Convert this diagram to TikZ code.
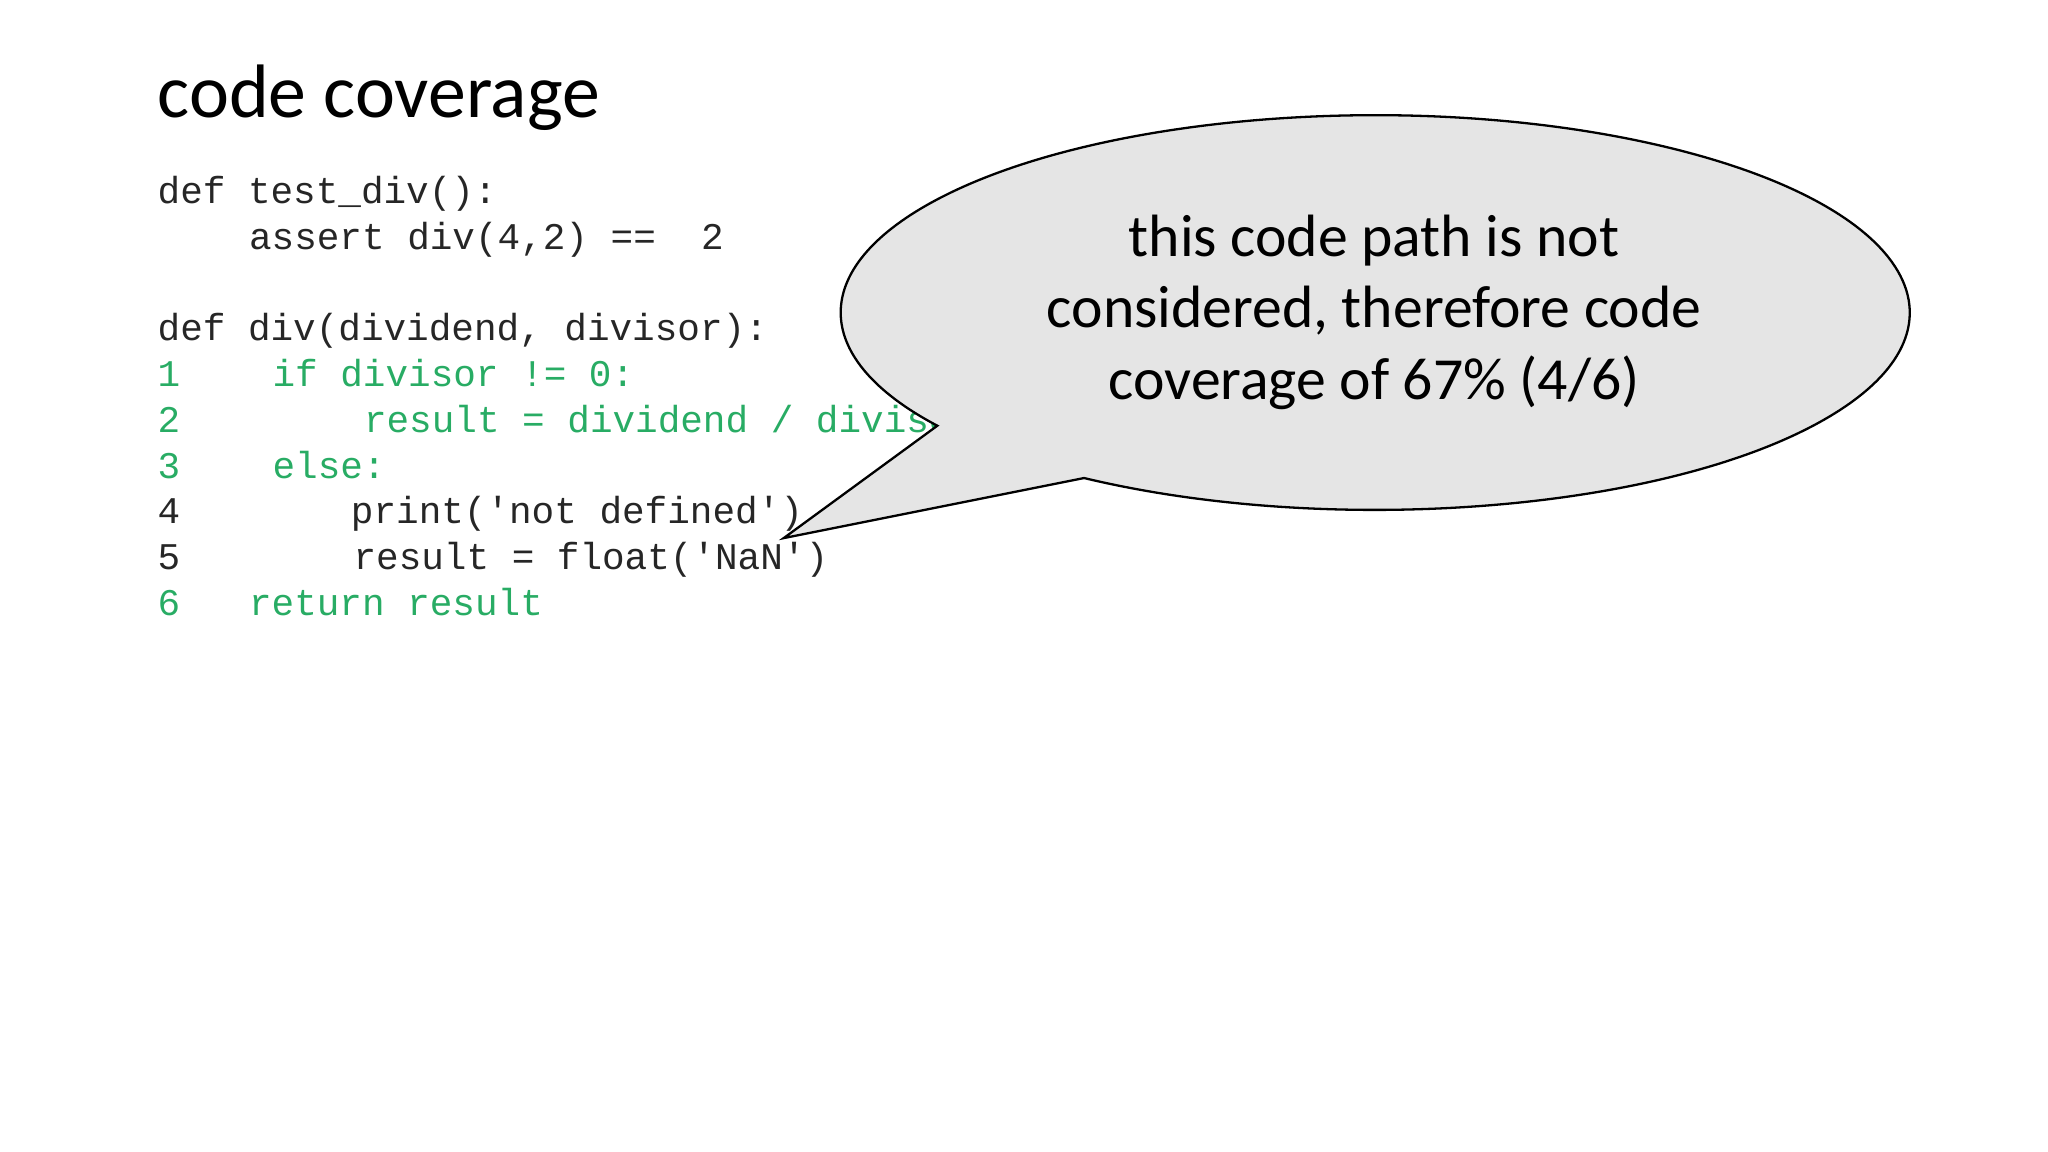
\documentclass[tikz,border=0pt]{standalone}
\usepackage{fontspec}
\setmainfont{Carlito}
\setmonofont{Liberation Mono}
\begin{document}
\begin{tikzpicture}[x=0.01cm,y=-0.01cm,
  code/.style={anchor=base west,inner sep=0pt,font=\ttfamily\fontsize{8.2}{10}\selectfont,text=black!85},
  cov/.style={code,text=codegreen}]
\definecolor{codegreen}{RGB}{40,172,100}
\fill[white] (0,0) rectangle (1568,882);
\node[anchor=base west,inner sep=0pt,font=\fontsize{16.5}{20}\selectfont] (title) at (120,90) {code coverage};
\node[code] (l1) at (120,156) {def test\_div():};
\node[code] (l2) at (190,191) {assert div(4,2) ==\ \ 2};
\node[code] (l3) at (120,261) {def div(dividend, divisor):};
\node[cov] (n1) at (120,296) {1};
\node[cov] (c1) at (208,296) {if divisor != 0:};
\node[cov] (n2) at (120,331) {2};
\node[cov] (c2) at (278,331) {result = dividend / divisor};
\node[cov] (n3) at (120,366) {3};
\node[cov] (c3) at (208,366) {else:};
\node[code] (n4) at (120,401) {4};
\node[code] (c4) at (268,401) {print('not defined')};
\node[code] (n5) at (120,436) {5};
\node[code] (c5) at (270,436) {result = float('NaN')};
\node[cov] (n6) at (120,471) {6};
\node[cov] (c6) at (190,471) {return result};
\coordinate (tip) at (600,412);
\coordinate (ctr) at (1052,239);
\filldraw[fill=black!10,draw=black,line width=0.5pt]
  (830,366) arc[start angle=237,end angle=575,x radius=4.09cm,y radius=1.51cm] -- (tip) -- cycle;
\node[align=center,font=\fontsize{13}{15.6}\selectfont] (bubble) at (ctr) {this code path is not\\considered, therefore code\\coverage of 67\% (4/6)};
\end{tikzpicture}
\end{document}
